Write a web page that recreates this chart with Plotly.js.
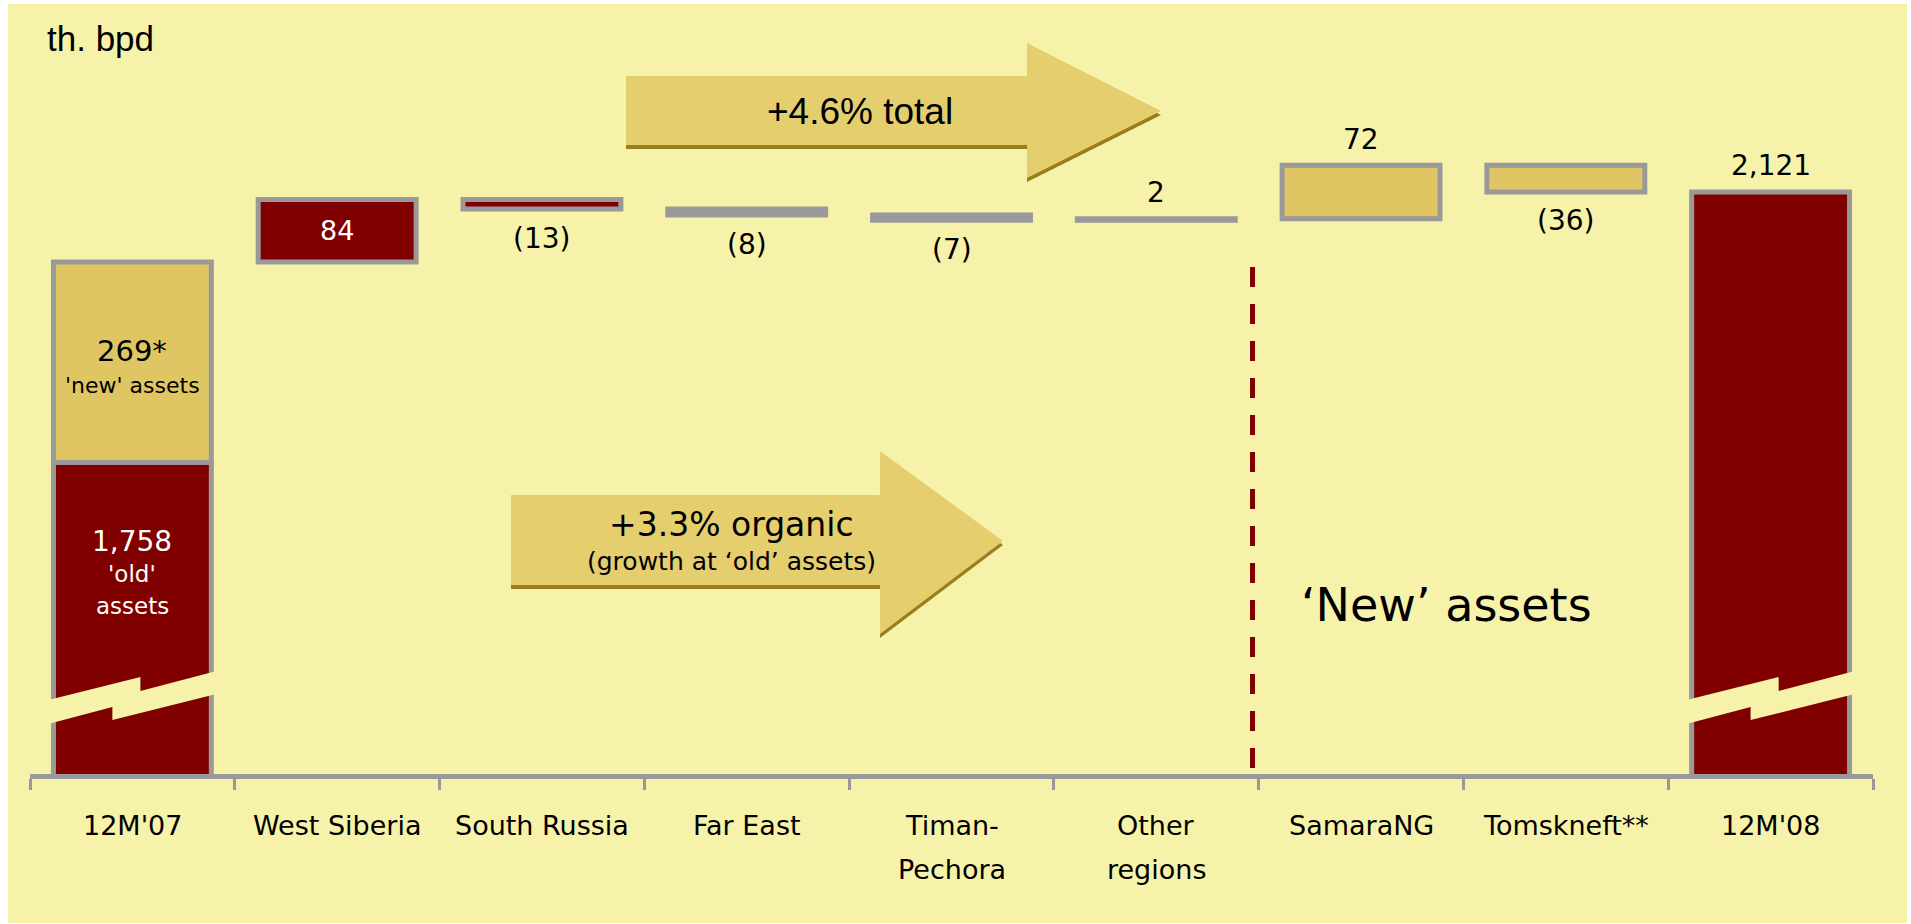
<!DOCTYPE html>
<html><head><meta charset="utf-8">
<script src="https://cdn.plot.ly/plotly-3.0.1.min.js"></script>
<style>
html,body{margin:0;padding:0;background:#ffffff;}
#chart{position:absolute;left:8px;top:4px;width:1899px;height:919px;}
</style>
</head><body><div id="chart"></div>
<script>
// ---------------- data ----------------
const categories = ["12M'07","West Siberia","South Russia","Far East","Timan-Pechora","Other regions","SamaraNG","Tomskneft**","12M'08"];
const tickLabels = [["12M'07"],["West Siberia"],["South Russia"],["Far East"],["Timan-","Pechora"],["Other","regions"],["SamaraNG"],["Tomskneft**"],["12M'08"]];
const start2007Old = 1758;      // 'old' assets
const start2007New = 269;       // 'new' assets
const organicCategories = ["West Siberia","South Russia","Far East","Timan-Pechora","Other regions"];
const organicChanges = [84, -13, -8, -7, 2];
const newAssetCategories = ["SamaraNG","Tomskneft**"];
const newAssetChanges = [72, -36];
const end2008Total = 2121;
const unitLabel = "th. bpd";
const totalGrowthText = "+4.6% total";
const organicGrowthText = "+3.3% organic";
const organicGrowthNote = "(growth at \u2018old\u2019 assets)";
const newAssetsText = "\u2018New\u2019 assets";

// ---------------- styles ----------------
const RED = '#800000', GOLD = '#DFC663', GRAY = '#999999', BG = '#F7F2AA';
const ARROW = '#E5CE6E', SHADOW = '#9A7D1C';
const DV = 'DejaVu Sans', LS = 'Liberation Sans';
const organicColors = [RED, RED, GRAY, GRAY, GRAY];
const organicLabelInside = [true, false, false, false, false];
const LINE = {color: GRAY, width: 5};

// page-pixel -> paper helpers (plot area: x 30..1873, y 4..774 on the page)
const PL = 30, PR = 1873, PT = 4, PB = 774;
const px2x = px => (px - PL) / (PR - PL);
const px2y = py => (PB - py) / (PB - PT);
const catW = (PR - PL) / categories.length;
const catCenterPx = i => PL + (i + 0.5) * catW;

const fmt = v => Math.abs(v).toLocaleString('en-US');
const fmtChange = v => v < 0 ? '(' + fmt(v) + ')' : fmt(v);

// running totals for the waterfall
let running = start2007Old + start2007New;
const organicBases = organicChanges.map(v => { const b = running; running += v; return b; });
const organicEnds = organicChanges.map((v, i) => organicBases[i] + v);
const newBases = newAssetChanges.map(v => { const b = running; running += v; return b; });
const newEnds = newAssetChanges.map((v, i) => newBases[i] + v);

const traces = [
  {type:'bar', x:[categories[0]], y:[start2007Old], base:[0], marker:{color:RED, line:LINE}, hoverinfo:'skip', name:"'old' assets"},
  {type:'bar', x:[categories[0]], y:[start2007New], base:[start2007Old], marker:{color:GOLD, line:LINE}, hoverinfo:'skip', name:"'new' assets"},
  {type:'bar', x:organicCategories, y:organicChanges, base:organicBases, marker:{color:organicColors, line:LINE}, hoverinfo:'skip', name:'organic'},
  {type:'bar', x:newAssetCategories, y:newAssetChanges, base:newBases, marker:{color:GOLD, line:LINE}, hoverinfo:'skip', name:'new assets'},
  {type:'bar', x:[categories[8]], y:[end2008Total], base:[0], marker:{color:RED, line:LINE}, hoverinfo:'skip', name:"12M'08"}
];

// ---------------- annotations ----------------
const ann = [];
const txt = (o) => Object.assign({showarrow:false, xanchor:'center', yanchor:'middle'}, o);

ann.push(txt({xref:'paper', yref:'paper', x:px2x(45), y:px2y(38), xanchor:'left', text:unitLabel, font:{family:LS, size:35, color:'#000'}}));

// 12M'07 stacked labels
const newMid = start2007Old + start2007New / 2;
ann.push(txt({x:categories[0], y:newMid, yshift:11, text:fmt(start2007New) + '*', font:{family:DV, size:29, color:'#000'}}));
ann.push(txt({x:categories[0], y:newMid, yshift:-23, text:"'new' assets", font:{family:DV, size:22, color:'#000'}}));
ann.push(txt({x:categories[0], y:start2007Old, yshift:-79, text:fmt(start2007Old), font:{family:DV, size:28, color:'#fff'}}));
ann.push(txt({x:categories[0], y:start2007Old, yshift:-112, text:"'old'", font:{family:DV, size:23, color:'#fff'}}));
ann.push(txt({x:categories[0], y:start2007Old, yshift:-144, text:"assets", font:{family:DV, size:23, color:'#fff'}}));

// change labels
function changeLabel(cat, v, base, end, inside){
  if (inside) {
    ann.push(txt({x:cat, y:base + v / 2, text:fmtChange(v), font:{family:DV, size:27, color:'#fff'}}));
  } else {
    ann.push(txt({x:cat, y:end, yshift: v < 0 ? -29 : 26, text:fmtChange(v), font:{family:DV, size:28, color:'#000'}}));
  }
}
organicChanges.forEach((v, i) => changeLabel(organicCategories[i], v, organicBases[i], organicEnds[i], organicLabelInside[i]));
newAssetChanges.forEach((v, i) => changeLabel(newAssetCategories[i], v, newBases[i], newEnds[i], false));
ann.push(txt({x:categories[8], y:end2008Total, yshift:26, text:fmt(end2008Total), font:{family:DV, size:28, color:'#000'}}));

// category labels
tickLabels.forEach((lines, i) => {
  lines.forEach((ln, j) => {
    ann.push(txt({x:categories[i], yref:'paper', y:px2y(825 + 44 * j), text:ln, font:{family:DV, size:27, color:'#000'}}));
  });
});

// arrow texts & new-assets text
ann.push(txt({xref:'paper', yref:'paper', x:px2x(860), y:px2y(111), text:totalGrowthText, font:{family:LS, size:37, color:'#000'}}));
ann.push(txt({xref:'paper', yref:'paper', x:px2x(731), y:px2y(524), text:organicGrowthText, font:{family:DV, size:33, color:'#000'}}));
ann.push(txt({xref:'paper', yref:'paper', x:px2x(731), y:px2y(561), text:organicGrowthNote, font:{family:DV, size:25, color:'#000'}}));
ann.push(txt({xref:'paper', yref:'paper', x:px2x(1446), y:px2y(605), text:newAssetsText, font:{family:DV, size:46, color:'#000'}}));

// ---------------- shapes ----------------
function arrowPath(a, dy){
  const pts = [[a.x0,a.t],[a.xh,a.t],[a.xh,a.ht],[a.xt,a.yt],[a.xh,a.hb],[a.xh,a.b],[a.x0,a.b]];
  return 'M' + pts.map(p => px2x(p[0]).toFixed(5) + ',' + px2y(p[1] + dy).toFixed(5)).join('L') + 'Z';
}
const arrowTotal = {x0:626, t:76, b:145, xh:1027, ht:43, hb:178, xt:1161, yt:111};
const arrowOrganic = {x0:511, t:495, b:585, xh:880, ht:451, hb:634, xt:1003, yt:541};

function breakPath(i){
  const c = catCenterPx(i);
  const tmpl = [[-88,701],[8,677],[8,691],[88,670],[88,693],[-20,720],[-20,707],[-88,725]];
  return 'M' + tmpl.map(p => px2x(c + p[0]).toFixed(5) + ',' + px2y(p[1]).toFixed(5)).join('L') + 'Z';
}

const shapes = [
  {type:'path', xref:'paper', yref:'paper', path:arrowPath(arrowTotal, 4), fillcolor:SHADOW, line:{width:0}},
  {type:'path', xref:'paper', yref:'paper', path:arrowPath(arrowTotal, 0), fillcolor:ARROW, line:{width:0}},
  {type:'path', xref:'paper', yref:'paper', path:arrowPath(arrowOrganic, 4), fillcolor:SHADOW, line:{width:0}},
  {type:'path', xref:'paper', yref:'paper', path:arrowPath(arrowOrganic, 0), fillcolor:ARROW, line:{width:0}},
  {type:'path', xref:'paper', yref:'paper', path:breakPath(0), fillcolor:BG, line:{width:0}},
  {type:'path', xref:'paper', yref:'paper', path:breakPath(8), fillcolor:BG, line:{width:0}},
  {type:'line', xref:'x', yref:'paper', x0:5.47, x1:5.47, y0:px2y(267), y1:0, line:{color:RED, width:5, dash:'20px,17px'}}
];

const layout = {
  width:1899, height:919,
  margin:{l:22, r:34, t:0, b:149, pad:0},
  paper_bgcolor:BG, plot_bgcolor:'rgba(0,0,0,0)',
  barmode:'overlay', bargap:0.229,
  showlegend:false,
  xaxis:{type:'category', categoryorder:'array', categoryarray:categories, range:[-0.5, 8.5],
         tickson:'boundaries', ticks:'outside', ticklen:11, tickwidth:3, tickcolor:GRAY,
         showline:true, linecolor:GRAY, linewidth:5, showticklabels:false,
         showgrid:false, zeroline:false, fixedrange:true},
  yaxis:{range:[1339.8, 2373.3], visible:false, showgrid:false, zeroline:false, fixedrange:true},
  shapes:shapes,
  annotations:ann
};

Plotly.newPlot('chart', traces, layout, {displayModeBar:false, staticPlot:true});
</script>
</body></html>
